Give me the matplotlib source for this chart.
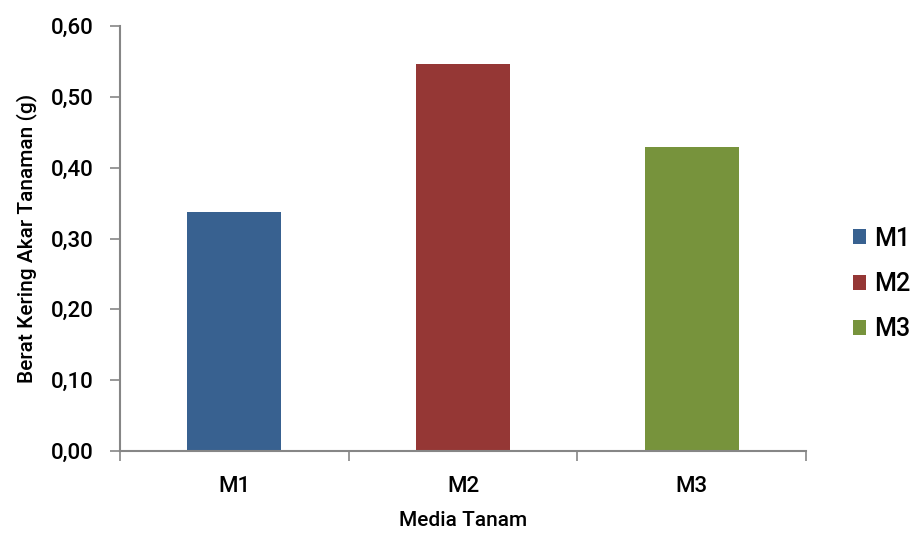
import numpy as np
import matplotlib.pyplot as plt

plt.rcParams['font.family'] = ['Roboto', 'DejaVu Sans']

media = ['M1', 'M2', 'M3']
berat_kering = [0.337, 0.547, 0.429]
warna = ['#386190', '#953735', '#77933c']
y_ticks = [0.0, 0.1, 0.2, 0.3, 0.4, 0.5, 0.6]

fig = plt.figure(figsize=(9.11, 5.34), dpi=100)
ax = fig.add_axes([0.1317, 0.1554, 0.7531, 0.7959])

x = np.arange(len(media))
bars = ax.bar(x, berat_kering, width=0.41, color=warna, label=media)

ax.set_xlim(-0.5, len(media) - 0.5)
ax.set_ylim(0, 0.6)
ax.set_yticks(y_ticks)
ax.set_yticklabels([f'{v:.2f}'.replace('.', ',') for v in y_ticks],
                   fontsize=16, fontweight='medium')

# label kategori di tengah, tanda tick di batas kategori
ax.set_xticks(x)
ax.set_xticklabels(media, fontsize=16, fontweight='medium')
ax.tick_params(axis='x', length=0, pad=18)
ax.set_xticks(np.arange(-0.5, len(media)), minor=True)
ax.tick_params(axis='x', which='minor', length=7, color='#868686', width=1.2)
ax.tick_params(axis='y', length=7, color='#868686', width=1.2, direction='out', pad=12)

for side in ['top', 'right']:
    ax.spines[side].set_visible(False)
for side in ['left', 'bottom']:
    ax.spines[side].set_color('#868686')
    ax.spines[side].set_linewidth(1.5)

ax.set_xlabel('Media Tanam', fontsize=15, labelpad=10, fontweight='medium')
ax.set_ylabel('Berat Kering Akar Tanaman (g)', fontsize=15, labelpad=10,
              fontweight='medium')

ax.legend(handles=list(bars), labels=media, loc='center left',
          bbox_to_anchor=(1.035, 0.393), frameon=False,
          prop={'size': 18, 'weight': 'medium'},
          handlelength=0.55, handleheight=0.55, handletextpad=0.3,
          labelspacing=0.85)

fig.savefig('out.png', dpi=100)
